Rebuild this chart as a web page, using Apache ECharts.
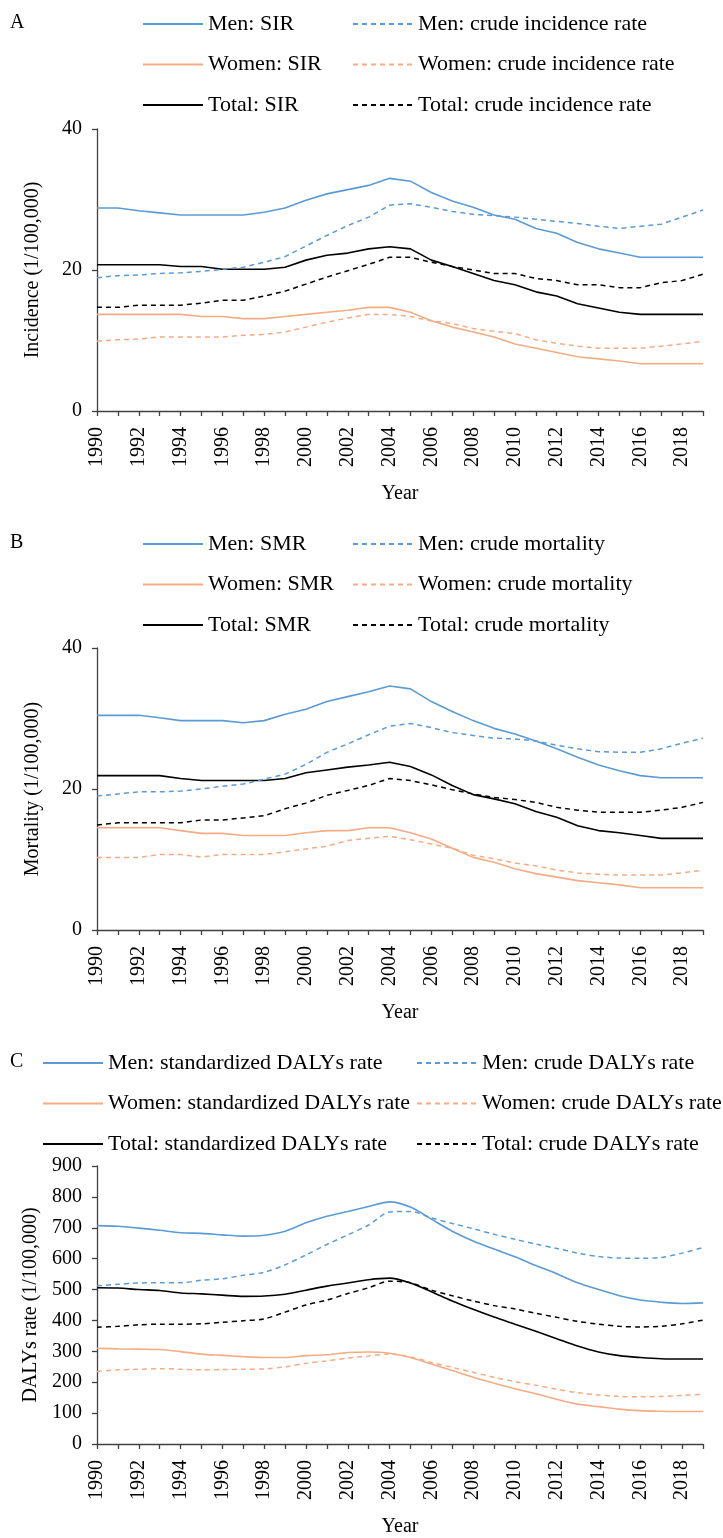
<!DOCTYPE html>
<html>
<head>
<meta charset="utf-8">
<script src="https://cdn.jsdelivr.net/npm/echarts@6/dist/echarts.min.js"></script>
<style>
html,body{margin:0;padding:0;background:#fff;}
#chart{width:723px;height:1538px;}
</style>
</head>
<body>
<div id="chart"></div>
<script>
const years = ['1990','1991','1992','1993','1994','1995','1996','1997','1998','1999','2000','2001','2002','2003','2004','2005','2006','2007','2008','2009','2010','2011','2012','2013','2014','2015','2016','2017','2018','2019'];

// Panel A: incidence
const menSIR = [28.8,28.8,28.4,28.1,27.8,27.8,27.8,27.8,28.2,28.8,29.9,30.8,31.4,32.0,33.0,32.6,31.0,29.8,28.9,27.8,27.2,25.9,25.2,23.9,23.0,22.4,21.8,21.8,21.8,21.8];
const menCrudeInc = [18.9,19.2,19.3,19.5,19.6,19.8,20.1,20.4,21.1,21.9,23.4,24.9,26.3,27.5,29.2,29.4,28.9,28.3,27.9,27.7,27.5,27.2,26.9,26.6,26.2,25.9,26.2,26.5,27.5,28.5];
const womenSIR = [13.7,13.7,13.7,13.7,13.7,13.4,13.4,13.1,13.1,13.4,13.7,14.0,14.3,14.7,14.7,14.0,12.8,11.9,11.2,10.5,9.5,8.9,8.3,7.7,7.4,7.1,6.7,6.7,6.7,6.7];
const womenCrudeInc = [9.9,10.1,10.2,10.5,10.5,10.5,10.5,10.75,10.85,11.2,11.9,12.6,13.2,13.7,13.7,13.4,12.8,12.4,11.7,11.3,11.0,10.1,9.6,9.2,8.9,8.9,8.9,9.2,9.5,9.9];
const totalSIR = [20.75,20.75,20.75,20.75,20.5,20.5,20.1,20.1,20.1,20.4,21.4,22.1,22.4,23.0,23.3,23.0,21.4,20.5,19.5,18.5,17.9,16.9,16.3,15.2,14.6,14.0,13.7,13.7,13.7,13.7];
const totalCrudeInc = [14.7,14.7,15.0,15.0,15.0,15.3,15.7,15.7,16.3,17.0,18.0,19.0,19.9,20.8,21.8,21.8,21.1,20.5,20.0,19.5,19.5,18.8,18.5,17.9,17.9,17.5,17.5,18.2,18.5,19.4];

// Panel B: mortality
const menSMR = [30.45,30.45,30.45,30.1,29.7,29.7,29.7,29.4,29.7,30.6,31.3,32.4,33.1,33.8,34.6,34.2,32.4,31.0,29.7,28.6,27.8,26.8,25.7,24.5,23.4,22.6,21.9,21.6,21.6,21.6];
const menCrudeMort = [19.0,19.3,19.6,19.6,19.7,20.0,20.4,20.7,21.4,22.1,23.5,25.2,26.4,27.7,28.9,29.3,28.7,28.0,27.6,27.2,27.1,26.8,26.2,25.7,25.3,25.2,25.2,25.7,26.5,27.2];
const womenSMR = [14.5,14.5,14.5,14.5,14.1,13.7,13.7,13.4,13.4,13.4,13.8,14.1,14.1,14.5,14.5,13.8,12.9,11.6,10.3,9.6,8.7,8.0,7.5,7.0,6.7,6.4,6.0,6.0,6.0,6.0];
const womenCrudeMort = [10.3,10.3,10.3,10.7,10.7,10.35,10.7,10.7,10.7,11.1,11.5,11.9,12.7,13.0,13.3,12.8,12.2,11.6,10.6,10.1,9.5,9.1,8.5,8.1,7.9,7.8,7.8,7.8,8.1,8.5];
const totalSMR = [21.9,21.9,21.9,21.9,21.5,21.2,21.2,21.2,21.2,21.5,22.3,22.7,23.1,23.4,23.8,23.2,22.0,20.5,19.2,18.6,17.9,16.8,16.0,14.8,14.1,13.8,13.4,13.0,13.0,13.0];
const totalCrudeMort = [14.9,15.2,15.2,15.2,15.2,15.6,15.6,15.9,16.2,17.2,18.0,19.1,19.8,20.5,21.5,21.2,20.6,19.9,19.3,18.8,18.5,18.1,17.4,17.0,16.7,16.7,16.7,17.0,17.4,18.1];

// Panel C: DALYs
const menStdDALY = [707,705,699,692,684,682,677,673,676,689,716,737,753,769,784,767,728,689,657,631,606,578,551,522,500,480,466,459,455,457];
const menCrudeDALY = [512,517,521,522,522,530,535,546,556,580,612,646,677,709,751,753,732,714,697,679,663,647,633,618,607,602,601,604,618,636];
const womenStdDALY = [310,308,307,306,299,291,287,283,280,280,286,289,296,298,294,280,259,238,216,197,179,163,145,129,121,113,108,106,105,105];
const womenCrudeDALY = [235,240,242,244,242,240,241,242,243,250,261,269,278,285,291,282,264,248,232,216,202,190,177,166,159,154,153,154,157,161];
const totalStdDALY = [506,505,500,497,489,486,482,478,479,485,498,511,521,532,537,521,493,463,436,411,388,365,341,317,298,286,280,276,275,275];
const totalCrudeDALY = [378,381,386,388,388,389,394,399,405,427,450,466,487,506,527,522,498,480,463,448,437,423,410,397,388,381,379,381,389,401];

const yTicksAB = {min: 0, max: 40, interval: 20};
const yTicksC = {min: 0, max: 900, interval: 100};

const FONT = 'Liberation Serif';
const BLUE = '#5B9BD5', ORANGE = '#F4AC84', BLACK = '#000000';

const panels = [
  {top: 129, yname: 'Incidence (1/100,000)', ynameGap: 54, ticks: yTicksAB, legTop: 13, legL: 142, legR: 352, letter: 'A',
   series: [['Men: SIR', menSIR, BLUE, false], ['Women: SIR', womenSIR, ORANGE, false], ['Total: SIR', totalSIR, BLACK, false],
            ['Men: crude incidence rate', menCrudeInc, BLUE, true], ['Women: crude incidence rate', womenCrudeInc, ORANGE, true], ['Total: crude incidence rate', totalCrudeInc, BLACK, true]], smooth: false},
  {top: 648, yname: 'Mortality (1/100,000)', ynameGap: 54, ticks: yTicksAB, legTop: 533, legL: 142, legR: 352, letter: 'B',
   series: [['Men: SMR', menSMR, BLUE, false], ['Women: SMR', womenSMR, ORANGE, false], ['Total: SMR', totalSMR, BLACK, false],
            ['Men: crude mortality', menCrudeMort, BLUE, true], ['Women: crude mortality', womenCrudeMort, ORANGE, true], ['Total: crude mortality', totalCrudeMort, BLACK, true]], smooth: false},
  {top: 1166, yname: 'DALYs rate (1/100,000)', ynameGap: 51, ticks: yTicksC, legTop: 1052, legL: 42, legR: 416, letter: 'C',
   series: [['Men: standardized DALYs rate', menStdDALY, BLUE, false], ['Women: standardized DALYs rate', womenStdDALY, ORANGE, false], ['Total: standardized DALYs rate', totalStdDALY, BLACK, false],
            ['Men: crude DALYs rate', menCrudeDALY, BLUE, true], ['Women: crude DALYs rate', womenCrudeDALY, ORANGE, true], ['Total: crude DALYs rate', totalCrudeDALY, BLACK, true]], smooth: 0.3}
];

const grid = [], xAxis = [], yAxis = [], series = [], legend = [], graphic = [];
panels.forEach((p, i) => {
  grid.push({left: 97, width: 606, top: p.top, height: 282, containLabel: false});
  xAxis.push({
    type: 'category', gridIndex: i, data: years, boundaryGap: false,
    name: 'Year', nameLocation: 'middle', nameGap: 73,
    nameTextStyle: {fontFamily: FONT, fontSize: 20, color: '#000'},
    axisLine: {lineStyle: {color: '#404040', width: 1.3}},
    axisTick: {interval: 0, length: 5, lineStyle: {color: '#404040', width: 1.3}},
    axisLabel: {interval: 1, rotate: 90, fontFamily: FONT, fontSize: 20, color: '#000', margin: 16},
    splitLine: {show: false}
  });
  yAxis.push({
    type: 'value', gridIndex: i, min: p.ticks.min, max: p.ticks.max, interval: p.ticks.interval,
    name: p.yname, nameLocation: 'middle', nameGap: p.ynameGap,
    nameTextStyle: {fontFamily: FONT, fontSize: 20, color: '#000'},
    axisLine: {show: true, lineStyle: {color: '#404040', width: 1.3}},
    axisTick: {show: true, length: 5, lineStyle: {color: '#404040', width: 1.3}},
    axisLabel: {fontFamily: FONT, fontSize: 20, color: '#000', margin: 15},
    splitLine: {show: false}
  });
  p.series.forEach(s => {
    series.push({
      name: s[0], type: 'line', xAxisIndex: i, yAxisIndex: i, data: s[1],
      symbol: 'none', showSymbol: false, smooth: p.smooth, silent: true,
      lineStyle: {color: s[2], width: s[3] ? 1.5 : 1.6, type: s[3] ? [5, 4] : 'solid'},
      itemStyle: {color: s[2]}
    });
  });
  const legBase = {
    orient: 'vertical', top: p.legTop, itemWidth: 60, itemHeight: 20, itemGap: 18.5,
    selectedMode: false, padding: 0,
    itemStyle: {opacity: 0},
    textStyle: {fontFamily: FONT, fontSize: 22, color: '#000', lineHeight: 20}
  };
  legend.push(Object.assign({}, legBase, {left: p.legL, data: p.series.slice(0, 3).map(s => s[0])}));
  legend.push(Object.assign({}, legBase, {left: p.legR, data: p.series.slice(3).map(s => s[0])}));
  graphic.push({type: 'text', left: 10, top: p.legTop, style: {text: p.letter, font: '20px "Liberation Serif"', fill: '#000'}});
});

const chart = echarts.init(document.getElementById('chart'), null, {renderer: 'canvas'});
chart.setOption({
  animation: false, backgroundColor: '#fff',
  grid, xAxis, yAxis, series, legend, graphic
});
</script>
</body>
</html>
